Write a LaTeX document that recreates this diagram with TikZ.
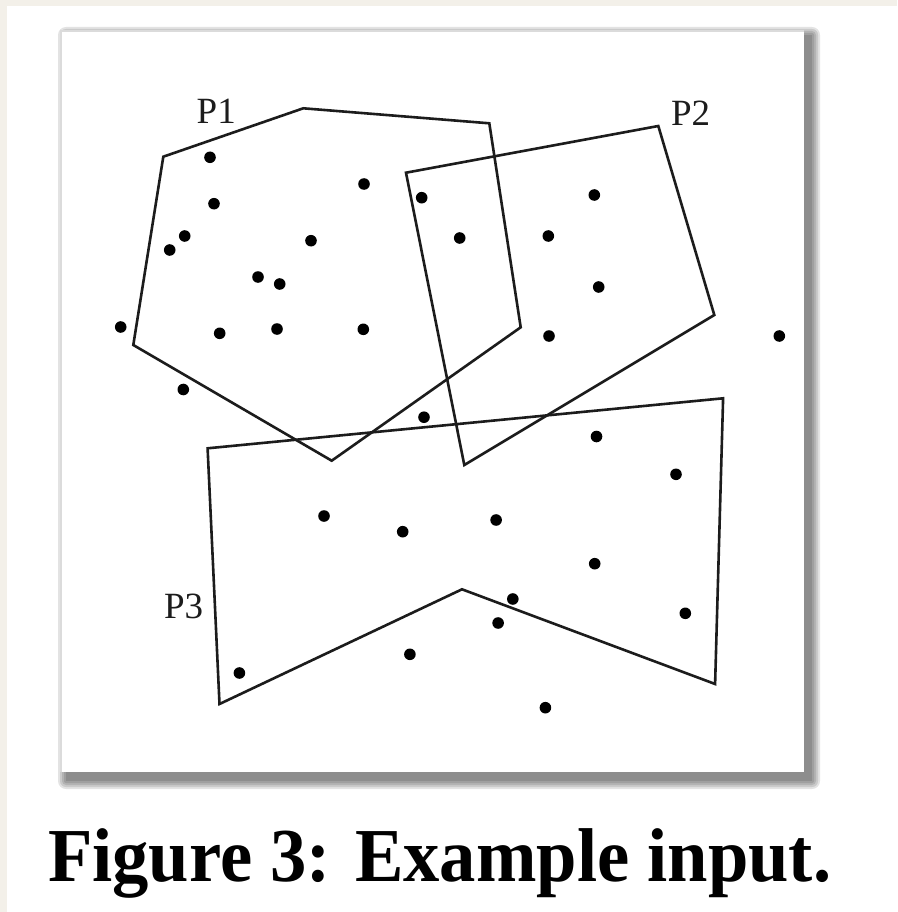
\documentclass[tikz,border=0pt]{standalone}
\usepackage{fontspec}
\setmainfont{Liberation Serif}
\definecolor{beige}{RGB}{243,240,233}
\definecolor{ink}{RGB}{28,28,28}
\begin{document}
\begin{tikzpicture}[x=1pt,y=-1pt,
  poly/.style={draw=ink,line width=2.6pt,line join=miter},
  ptdot/.style={fill=black},
  lbl/.style={anchor=base west,inner sep=0pt,outer sep=0pt,font=\fontsize{37}{40}\selectfont,text=ink},
  capt/.style={anchor=base west,inner sep=0pt,outer sep=0pt,font=\fontsize{72.6}{80}\selectfont\bfseries,yscale=1.05}]
\useasboundingbox (0,0) rectangle (897,912);
\fill[white] (0,0) rectangle (897,912);
\fill[beige] (0,0) rectangle (897,6);
\fill[beige] (0,0) rectangle (7,912);
% shadow
\foreach \r in {8,6,4,2,0}
  \fill[black,opacity=0.11,rounded corners=\r pt] ({66-\r},{35-\r}) rectangle ({812+\r},{781+\r});
\fill[white] (61,31) rectangle (804,772);
\draw[black!14,line width=1.6pt] (61,772) -- (61,31) -- (804,31);
% polygons
\draw[poly] (163.3,156.7) -- (303.3,108.3) -- (489.3,123.3) -- (520.7,327.3) -- (331.7,460.7) -- (133.3,345) -- cycle;
\draw[poly] (406,172.7) -- (658.3,126) -- (714.3,315) -- (464.3,465) -- cycle;
\draw[poly] (207.6,448.3) -- (723.1,398.3) -- (715.1,684) -- (462,589.3) -- (219.5,704) -- cycle;
% points
\foreach \px/\py in {210/157.3,364/184,421.7/197.7,594.3/195,214/203.7,184.7/236,169.7/250,311/240.7,459.7/238,548.3/236,258/277,279.7/284,598.7/287,120.7/327,219.7/333.3,277/329,363.3/329.3,549/336,779.3/336,183.3/389.5,424/417.2,596.5/436.5,676/474.3,324/516,402.7/531.7,496.1/520,594.7/563.7,512.8/599,498.1/623,685.3/613.3,409.9/654.3,239.4/673,545.4/707.7}
  \fill[ptdot] (\px,\py) circle (5.8);
% labels
\node[lbl] (p1) at (196.7,123.3) {P1};
\node[lbl] (p2) at (671,125.8) {P2};
\node[lbl] (p3) at (164,618) {P3};
\node[capt] (caption) at (48,881.5) {Figure 3: Example input.};
\end{tikzpicture}
\end{document}
